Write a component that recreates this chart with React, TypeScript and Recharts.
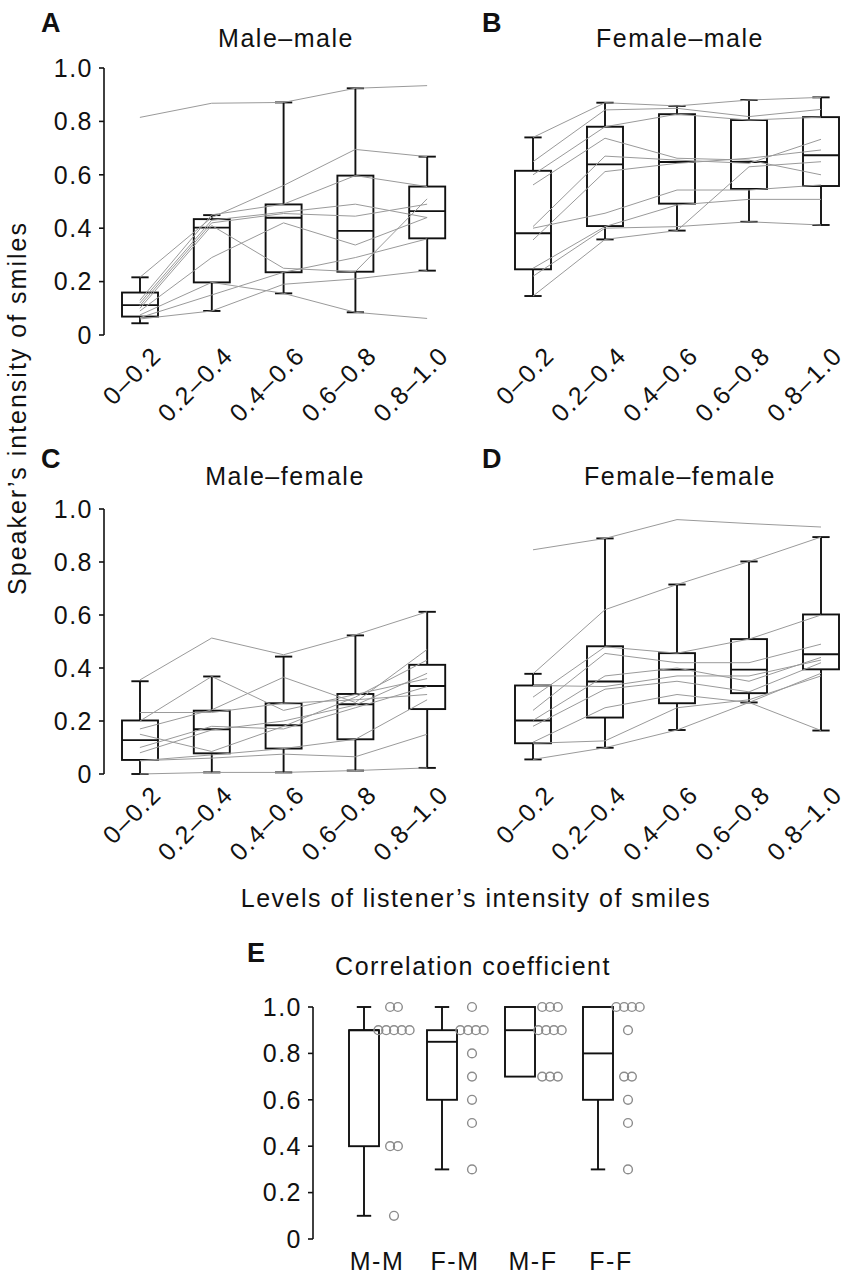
import React from "react";
import { Bar, ComposedChart, Line, Scatter, XAxis, YAxis } from "recharts";

const levels = ["0–0.2", "0.2–0.4", "0.4–0.6", "0.6–0.8", "0.8–1.0"];
const yTicks = [0, 0.2, 0.4, 0.6, 0.8, 1.0];

// box per level: [min, q1, median, q3, max]
const mmBoxes = [
  [0.044, 0.069, 0.112, 0.159, 0.216],
  [0.09, 0.197, 0.402, 0.434, 0.449],
  [0.156, 0.235, 0.439, 0.489, 0.871],
  [0.085, 0.237, 0.39, 0.597, 0.924],
  [0.241, 0.362, 0.464, 0.556, 0.668],
];
const fmBoxes = [
  [0.146, 0.246, 0.381, 0.615, 0.74],
  [0.358, 0.408, 0.639, 0.78, 0.87],
  [0.391, 0.492, 0.648, 0.827, 0.858],
  [0.424, 0.547, 0.648, 0.805, 0.88],
  [0.412, 0.558, 0.673, 0.816, 0.89],
];
const mfBoxes = [
  [0.0, 0.053, 0.128, 0.202, 0.35],
  [0.006, 0.078, 0.169, 0.239, 0.368],
  [0.006, 0.096, 0.184, 0.267, 0.443],
  [0.013, 0.131, 0.263, 0.302, 0.523],
  [0.023, 0.245, 0.332, 0.412, 0.612],
];
const ffBoxes = [
  [0.055, 0.116, 0.202, 0.334, 0.378],
  [0.099, 0.213, 0.349, 0.482, 0.889],
  [0.166, 0.267, 0.394, 0.456, 0.715],
  [0.27, 0.305, 0.394, 0.509, 0.802],
  [0.164, 0.395, 0.452, 0.602, 0.894],
];

// one line per speaker, one value per level
const mmSubjects = [
  [0.815, 0.868, 0.871, 0.924, 0.934],
  [0.216, 0.44, 0.56, 0.695, 0.668],
  [0.13, 0.45, 0.49, 0.597, 0.556],
  [0.12, 0.43, 0.46, 0.49, 0.44],
  [0.11, 0.42, 0.455, 0.445, 0.49],
  [0.1, 0.41, 0.25, 0.237, 0.51],
  [0.09, 0.29, 0.42, 0.337, 0.44],
  [0.075, 0.197, 0.156, 0.085, 0.062],
  [0.065, 0.15, 0.235, 0.29, 0.36],
  [0.06, 0.09, 0.19, 0.21, 0.241],
];
const fmSubjects = [
  [0.74, 0.87, 0.858, 0.88, 0.89],
  [0.649, 0.843, 0.849, 0.818, 0.845],
  [0.6, 0.78, 0.827, 0.805, 0.816],
  [0.562, 0.737, 0.662, 0.655, 0.6],
  [0.406, 0.67, 0.655, 0.643, 0.733],
  [0.356, 0.612, 0.643, 0.662, 0.693],
  [0.4, 0.456, 0.543, 0.543, 0.562],
  [0.25, 0.406, 0.487, 0.508, 0.508],
  [0.146, 0.358, 0.391, 0.63, 0.649],
  [0.22, 0.4, 0.406, 0.424, 0.412],
];
const mfSubjects = [
  [0.355, 0.513, 0.45, 0.525, 0.612],
  [0.2, 0.368, 0.24, 0.3, 0.36],
  [0.17, 0.242, 0.365, 0.27, 0.47],
  [0.232, 0.232, 0.267, 0.28, 0.3],
  [0.15, 0.085, 0.18, 0.29, 0.43],
  [0.1, 0.18, 0.17, 0.25, 0.33],
  [0.08, 0.166, 0.2, 0.26, 0.38],
  [0.05, 0.072, 0.096, 0.131, 0.28],
  [0.05, 0.06, 0.075, 0.065, 0.15],
  [0.0, 0.006, 0.006, 0.013, 0.023],
];
const ffSubjects = [
  [0.846, 0.889, 0.96, 0.945, 0.932],
  [0.378, 0.62, 0.715, 0.802, 0.894],
  [0.29, 0.48, 0.456, 0.509, 0.6],
  [0.24, 0.455, 0.42, 0.42, 0.49],
  [0.334, 0.33, 0.37, 0.37, 0.43],
  [0.202, 0.37, 0.4, 0.35, 0.44],
  [0.18, 0.32, 0.35, 0.31, 0.42],
  [0.12, 0.25, 0.3, 0.27, 0.164],
  [0.116, 0.125, 0.25, 0.28, 0.37],
  [0.055, 0.099, 0.166, 0.27, 0.38],
];

// panel E
const pairs = ["M-M", "F-M", "M-F", "F-F"];
const corrBoxes = [
  [0.1, 0.4, 0.9, 0.9, 1.0],
  [0.3, 0.6, 0.85, 0.9, 1.0],
  [0.7, 0.7, 0.9, 1.0, 1.0],
  [0.3, 0.6, 0.8, 1.0, 1.0],
];
const corrValues = [
  [1.0, 1.0, 0.9, 0.9, 0.9, 0.9, 0.9, 0.4, 0.4, 0.1],
  [1.0, 0.9, 0.9, 0.9, 0.9, 0.8, 0.7, 0.6, 0.5, 0.3],
  [1.0, 1.0, 1.0, 0.9, 0.9, 0.9, 0.9, 0.7, 0.7, 0.7],
  [1.0, 1.0, 1.0, 1.0, 0.9, 0.7, 0.7, 0.6, 0.5, 0.3],
];

const font = "'Liberation Sans', Arial, Helvetica, sans-serif";
const ink = "#111";

function boxRow(label: string, b: number[]) {
  const [min, q1, med, q3, max] = b;
  return { label, min, q1, med, q3, max };
}

function levelRows(boxes: number[][], subjects: number[][]) {
  return levels.map((lv, i) => {
    const row: any = boxRow(lv, boxes[i]);
    subjects.forEach((s, k) => {
      row["s" + k] = s[i];
    });
    return row;
  });
}

function BoxShape(props: any) {
  const { x, y, width, height, payload } = props;
  const top = Math.min(y, y + height);
  const h = Math.abs(height);
  const { min, q1, med, q3, max } = payload;
  const py = (v: number) => top + ((max - v) / (max - min)) * h;
  const cx = x + width / 2;
  const cap = width * 0.24;
  const s = { stroke: ink, strokeWidth: 1.9, fill: "none" };
  return (
    <g>
      {max > q3 && <line x1={cx} x2={cx} y1={py(max)} y2={py(q3)} {...s} />}
      {max > q3 && <line x1={cx - cap} x2={cx + cap} y1={py(max)} y2={py(max)} {...s} />}
      {min < q1 && <line x1={cx} x2={cx} y1={py(q1)} y2={py(min)} {...s} />}
      {min < q1 && <line x1={cx - cap} x2={cx + cap} y1={py(min)} y2={py(min)} {...s} />}
      <rect x={x} y={py(q3)} width={width} height={py(q1) - py(q3)} {...s} />
      <line x1={x} x2={x + width} y1={py(med)} y2={py(med)} {...s} />
    </g>
  );
}

function LevelTick({ x, y, payload }: any) {
  const tx = x + 23;
  const ty = y + 22;
  return (
    <text
      x={tx}
      y={ty}
      transform={`rotate(-45 ${tx} ${ty})`}
      textAnchor="end"
      fontSize={25}
      fontFamily={font}
      letterSpacing={1.5}
      fill={ink}
    >
      {payload.value}
    </text>
  );
}

function PairTick({ x, y, payload }: any) {
  return (
    <text x={x + 13} y={y + 31} textAnchor="middle" fontSize={25} fontFamily={font} letterSpacing={1.5} fill={ink}>
      {payload.value}
    </text>
  );
}

function DotRow({ cx, cy, payload }: any) {
  const gap = 7.8;
  const start = cx + 30 - ((payload.count - 1) * gap) / 2;
  return (
    <g>
      {Array.from({ length: payload.count }, (_, k) => (
        <circle key={k} cx={start + k * gap} cy={cy} r={4.4} fill="none" stroke="#8c8c8c" strokeWidth={1.4} />
      ))}
    </g>
  );
}

const yTickFmt = (v: number) => (v === 0 ? "0" : v.toFixed(1));
const yTickStyle = { fontSize: 25, fill: ink, fontFamily: font, letterSpacing: 1.5 };

function LevelPanel({ left, top, width, height, margin, boxes, subjects, showY }: any) {
  const rows = levelRows(boxes, subjects);
  return (
    <div style={{ position: "absolute", left, top }}>
      <ComposedChart width={width} height={height} data={rows} margin={margin}>
        <XAxis
          dataKey="label"
          axisLine={false}
          tickLine={false}
          tickSize={0}
          tickMargin={0}
          height={60}
          interval={0}
          tick={<LevelTick />}
        />
        <YAxis
          hide={!showY}
          width={60}
          domain={[0, 1]}
          ticks={yTicks}
          tickFormatter={yTickFmt}
          tickSize={5}
          tickMargin={6}
          axisLine={{ stroke: ink, strokeWidth: 1.6 }}
          tickLine={{ stroke: ink, strokeWidth: 1.6 }}
          tick={yTickStyle}
        />
        {subjects.map((_: number[], k: number) => (
          <Line
            key={k}
            dataKey={"s" + k}
            stroke="#9a9a9a"
            strokeWidth={1}
            dot={false}
            activeDot={false}
            isAnimationActive={false}
          />
        ))}
        <Bar dataKey={(d: any) => [d.min, d.max]} barSize={36} shape={<BoxShape />} isAnimationActive={false} />
      </ComposedChart>
    </div>
  );
}

function CorrPanel() {
  const rows = pairs.map((p, i) => boxRow(p, corrBoxes[i]));
  const dots: { label: string; value: number; count: number }[] = [];
  pairs.forEach((p, i) => {
    const counts = new Map<number, number>();
    corrValues[i].forEach((v) => counts.set(v, (counts.get(v) || 0) + 1));
    counts.forEach((count, value) => dots.push({ label: p, value, count }));
  });
  return (
    <div style={{ position: "absolute", left: 230, top: 920 }}>
      <ComposedChart width={427} height={359} data={rows} margin={{ top: 87, right: 20, bottom: 0, left: 23 }}>
        <XAxis
          dataKey="label"
          allowDuplicatedCategory={false}
          axisLine={false}
          tickLine={false}
          tickSize={0}
          tickMargin={0}
          height={40}
          interval={0}
          padding={{ left: 12, right: 0 }}
          tick={<PairTick />}
        />
        <YAxis
          width={60}
          domain={[0, 1]}
          ticks={yTicks}
          tickFormatter={yTickFmt}
          tickSize={5}
          tickMargin={6}
          axisLine={{ stroke: ink, strokeWidth: 1.6 }}
          tickLine={{ stroke: ink, strokeWidth: 1.6 }}
          tick={yTickStyle}
        />
        <Bar dataKey={(d: any) => [d.min, d.max]} barSize={30} shape={<BoxShape />} isAnimationActive={false} />
        <Scatter data={dots} dataKey="value" shape={<DotRow />} isAnimationActive={false} />
      </ComposedChart>
    </div>
  );
}

export default function App() {
  const title = { fontSize: 25, fontFamily: font, letterSpacing: 1.5, fill: ink };
  const letter = { fontSize: 27, fontFamily: font, fontWeight: 700, fill: ink };
  const rowTop = { top: 68, right: 17, bottom: 45, left: 44 };
  const rowTopB = { top: 68, right: 8, bottom: 45, left: 17 };
  const rowBot = { top: 89, right: 17, bottom: 46, left: 44 };
  const rowBotB = { top: 89, right: 8, bottom: 46, left: 17 };
  return (
    <div
      style={{
        position: "absolute",
        left: 0,
        top: 0,
        width: 851,
        height: 1279,
        overflow: "hidden",
        background: "#fff",
      }}
    >
      <LevelPanel left={0} top={0} width={480} height={440} margin={rowTop} boxes={mmBoxes} subjects={mmSubjects} showY />
      <LevelPanel left={480} top={0} width={385} height={440} margin={rowTopB} boxes={fmBoxes} subjects={fmSubjects} showY={false} />
      <LevelPanel left={0} top={420} width={480} height={460} margin={rowBot} boxes={mfBoxes} subjects={mfSubjects} showY />
      <LevelPanel left={480} top={420} width={385} height={460} margin={rowBotB} boxes={ffBoxes} subjects={ffSubjects} showY={false} />
      <CorrPanel />
      <svg width={851} height={1279} style={{ position: "absolute", left: 0, top: 0, pointerEvents: "none" }}>
        <text x={41} y={32} {...letter}>A</text>
        <text x={482} y={32} {...letter}>B</text>
        <text x={41} y={468} {...letter}>C</text>
        <text x={482} y={468} {...letter}>D</text>
        <text x={247} y={962} {...letter}>E</text>
        <text x={286} y={47} textAnchor="middle" {...title}>Male–male</text>
        <text x={680} y={47} textAnchor="middle" {...title}>Female–male</text>
        <text x={285} y={485} textAnchor="middle" {...title}>Male–female</text>
        <text x={680} y={485} textAnchor="middle" {...title}>Female–female</text>
        <text x={473} y={975} textAnchor="middle" {...title}>Correlation coefficient</text>
        <text x={476} y={907} textAnchor="middle" {...title}>Levels of listener’s intensity of smiles</text>
        <text transform="rotate(-90)" x={-408} y={26} textAnchor="middle" {...title} letterSpacing={2}>
          Speaker’s intensity of smiles
        </text>
      </svg>
    </div>
  );
}
